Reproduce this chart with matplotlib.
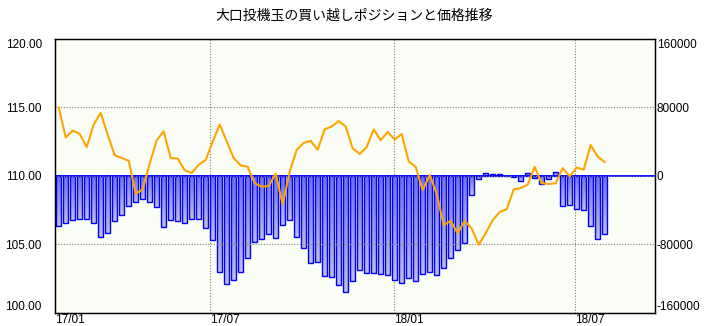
import numpy as np
import pandas as pd
import matplotlib
matplotlib.use("Agg")
import matplotlib.pyplot as plt
import matplotlib.dates as mdates
from matplotlib.colors import LinearSegmentedColormap

plt.rcParams['font.family'] = ['Liberation Sans', 'DejaVu Sans']

title = "大口投機玉の買い越しポジションと価格推移"

# weekly data, first report 2017-01-31
dates = pd.date_range('2017-01-31', periods=79, freq='7D')

price = [115.0, 112.8, 113.3, 113.05, 112.1, 113.75, 114.6, 113.0, 111.5, 111.3,
         111.1, 108.7, 109.0, 110.9, 112.6, 113.25, 111.3, 111.25, 110.4, 110.2,
         110.8, 111.15, 112.5, 113.75, 112.5, 111.3, 110.75, 110.65, 109.45, 109.2,
         109.25, 110.15, 107.9, 110.3, 111.9, 112.4, 112.55, 111.9, 113.4, 113.6,
         114.0, 113.6, 112.0, 111.6, 112.1, 113.4, 112.6, 113.2, 112.65, 113.05,
         111.05, 110.65, 108.95, 110.05, 108.7, 106.4, 106.7, 105.8, 106.7, 106.15,
         104.95, 105.8, 106.75, 107.35, 107.55, 109.0, 109.1, 109.35, 110.65, 109.45,
         109.4, 109.45, 110.55, 109.95, 110.6, 110.45, 112.25, 111.4, 111.0]

position = [-59300, -55400, -52200, -51100, -51100, -55400, -71700, -67100, -53000, -46000,
            -35500, -31200, -27300, -31200, -37000, -60000, -52200, -53000, -55400, -51100,
            -51100, -61600, -75200, -112700, -126700, -122000, -112700, -96700, -78000, -74500,
            -68600, -73300, -58100, -52200, -72100, -85000, -102500, -101400, -117700, -118900,
            -128300, -136500, -123600, -110700, -114200, -114200, -115400, -116600, -122400, -125900,
            -120100, -123600, -115400, -113100, -116600, -108400, -96700, -87300, -79100, -22600,
            -4300, 2700, 1500, 1500, 0, -1000, -6200, 2700, -3100, -9700,
            -4300, 3900, -35900, -34300, -39400, -40500, -59300, -74500, -68200]

price_ticks = [100, 105, 110, 115, 120]
pos_ticks = [-160000, -80000, 0, 80000, 160000]
month_ticks = ['2017-07-01', '2018-01-01', '2018-07-01']
month_labels = ['17/01', '17/07', '18/01', '18/07']

W, H = 708, 326
fig = plt.figure(figsize=(W / 100, H / 100), dpi=100)
fig.subplots_adjust(left=55 / W, right=655 / W, top=1 - 39 / H, bottom=1 - 312.5 / H)
ax2 = fig.add_subplot(111)
ax = ax2.twinx()
# price axis on the left and drawn on top of the bars
ax.yaxis.tick_left()
ax2.yaxis.tick_right()
ax.set_zorder(ax2.get_zorder() + 1)
ax.patch.set_visible(False)
ax2.set_facecolor('#fbfdf7')

x = mdates.date2num(dates)
bw = 4.6
cmap = LinearSegmentedColormap.from_list('bar', ['#7070ec', '#bdbdda'])
grad = np.linspace(0, 1, 64).reshape(-1, 1)
for xi, v in zip(x, position):
    if v != 0:
        ax2.imshow(grad if v < 0 else grad[::-1], cmap=cmap, aspect='auto',
                   extent=[xi - bw / 2, xi + bw / 2, v, 0] if v < 0 else [xi - bw / 2, xi + bw / 2, 0, v],
                   origin='upper' if v < 0 else 'lower', zorder=2, interpolation='bilinear')
ax2.bar(x, position, width=bw, fill=False, edgecolor='#0000ff', linewidth=1.0, zorder=3)
ax2.axhline(0, color='#0000ff', linewidth=1.3, zorder=4)

ax.plot(x, price, color='#ffa500', linewidth=1.5, zorder=5)

x0 = x[0] - 0.53 * 7
x1 = x[0] + 85.19 * 7
for a in (ax, ax2):
    a.set_xlim(x0, x1)
ax.set_ylim(100, 120)
ax2.set_ylim(-160000, 160000)

ticks = [x0] + list(mdates.date2num(pd.to_datetime(month_ticks)))
ax2.set_xticks(ticks)
ax2.set_xticklabels(month_labels, fontsize=8.5)
for lab in ax2.get_xticklabels():
    lab.set_horizontalalignment('left')
ax2.tick_params(axis='x', length=0, pad=1)

ax.set_yticks(price_ticks)
ax.set_yticklabels(['%.2f' % v for v in price_ticks], fontsize=8.5)
ax.tick_params(axis='y', length=0, pad=9.5)
ax2.set_yticks(pos_ticks)
ax2.set_yticklabels([str(v) for v in pos_ticks], fontsize=8.5)
ax2.tick_params(axis='y', length=0, pad=1.2)
for labs in (ax.get_yticklabels(), ax2.get_yticklabels()):
    labs[0].set_verticalalignment('bottom')
    labs[-1].set_verticalalignment('top')

ax2.grid(True, axis='x', color='#808080', linestyle=(0, (1, 1.5)), linewidth=0.8)
ax.grid(True, axis='y', color='#808080', linestyle=(0, (1, 1.5)), linewidth=0.8)
ax2.set_axisbelow(True)

for a in (ax, ax2):
    for s in a.spines.values():
        s.set_linewidth(0.9)
        s.set_color('black')

fig.text(0.5, 1 - 16 / H, title, ha='center', va='center', fontsize=10,
         family=['Noto Sans CJK JP', 'DejaVu Sans'])

fig.savefig('out.png', dpi=100, facecolor='white')
